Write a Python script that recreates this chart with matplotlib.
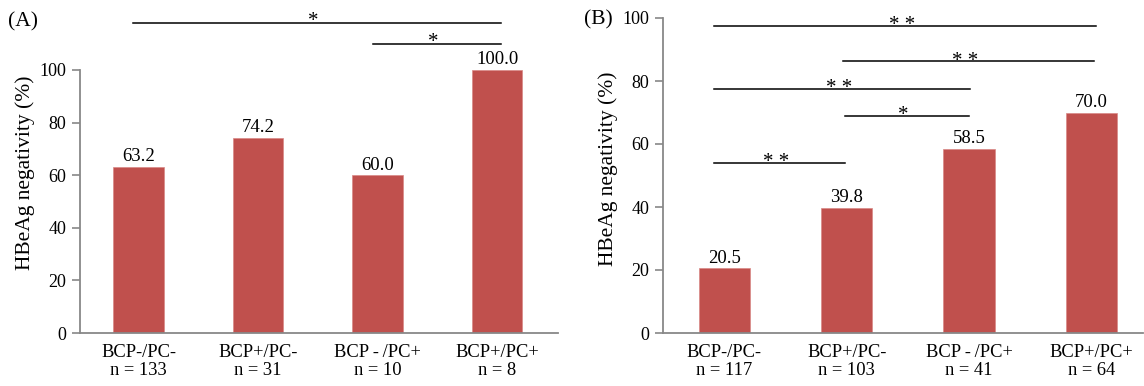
import matplotlib.pyplot as plt

plt.rcParams['font.family'] = ['Liberation Serif', 'DejaVu Serif']

# ---- data ----
groups_a = ["BCP-/PC-", "BCP+/PC-", "BCP\u2009-\u2009/PC+", "BCP+/PC+"]
n_a = [133, 31, 10, 8]
values_a = [63.2, 74.2, 60.0, 100.0]

groups_b = ["BCP-/PC-", "BCP+/PC-", "BCP\u2009-\u2009/PC+", "BCP+/PC+"]
n_b = [117, 103, 41, 64]
values_b = [20.5, 39.8, 58.5, 70.0]

# significance brackets: (start index, end index, height, stars)
sig_a = [(-0.05, 3.03, 118.0, "*"), (1.96, 3.03, 110.0, "*")]
sig_b = [(-0.08, 3.04, 97.5, "* *"), (0.97, 3.02, 86.3, "* *"),
         (-0.08, 2.01, 77.5, "* *"), (0.99, 2.00, 68.9, "*"),
         (-0.08, 0.99, 54.0, "* *")]

bar_color = "#C0504D"
axis_color = "#888888"

fig = plt.figure(figsize=(11.44, 3.86), dpi=100)
W, H = 1144, 386


def panel(rect_px, groups, ns, values, sigs, ytop, xlim, letter, letter_xy):
    x0, x1, y0, y1 = rect_px
    ax = fig.add_axes([x0 / W, 1 - y0 / H, (x1 - x0) / W, (y0 - y1) / H])
    idx = range(len(values))
    ax.bar(idx, values, width=0.42, color=bar_color, edgecolor="#D98886", linewidth=0.5)
    for i, v in zip(idx, values):
        ax.text(i, v + 0.6, f"{v:.1f}", ha="center", va="bottom", fontsize=13.5)
    for s, e, h, stars in sigs:
        ax.plot([s, e], [h, h], color="black", lw=1.1, clip_on=False)
        ax.text((s + e) / 2 - 0.03, h - 3.0, stars, ha="center", va="bottom",
                fontsize=15, clip_on=False)
    ax.set_xlim(*xlim)
    ax.set_ylim(0, ytop)
    ax.set_yticks([0, 20, 40, 60, 80, 100])
    ax.set_xticks(list(idx))
    ax.set_xticklabels([f"{g}\nn = {n}" for g, n in zip(groups, ns)],
                       fontsize=13.3, linespacing=1.1)
    ax.tick_params(axis="x", length=0, pad=8)
    ax.tick_params(axis="y", length=6, width=1.2, color=axis_color,
                   labelsize=13, pad=4)
    for sp in ["top", "right"]:
        ax.spines[sp].set_visible(False)
    ax.spines["left"].set_bounds(0, 100)
    for sp in ["left", "bottom"]:
        ax.spines[sp].set_color(axis_color)
        ax.spines[sp].set_linewidth(1.3)
    ax.set_ylabel("HBeAg negativity (%)", fontsize=15.5, labelpad=3)
    fig.text(letter_xy[0] / W, 1 - letter_xy[1] / H, letter, fontsize=15.5,
             ha="left", va="center")
    return ax


# panel A: 100 at y=70 px, 0 at y=333 px -> 2.63 px per unit
panel((80, 558, 333, 333 - 2.63 * 122), groups_a, n_a, values_a, sig_a,
      122, (-0.49, 3.51), "(A)", (8, 22))

# panel B: 100 at y=18 px, 0 at y=333 px -> 3.15 px per unit
panel((663, 1143, 333, 333 - 3.15 * 104), groups_b, n_b, values_b, sig_b,
      104, (-0.5, 3.42), "(B)", (584, 20))

fig.savefig("out.png", dpi=100)
